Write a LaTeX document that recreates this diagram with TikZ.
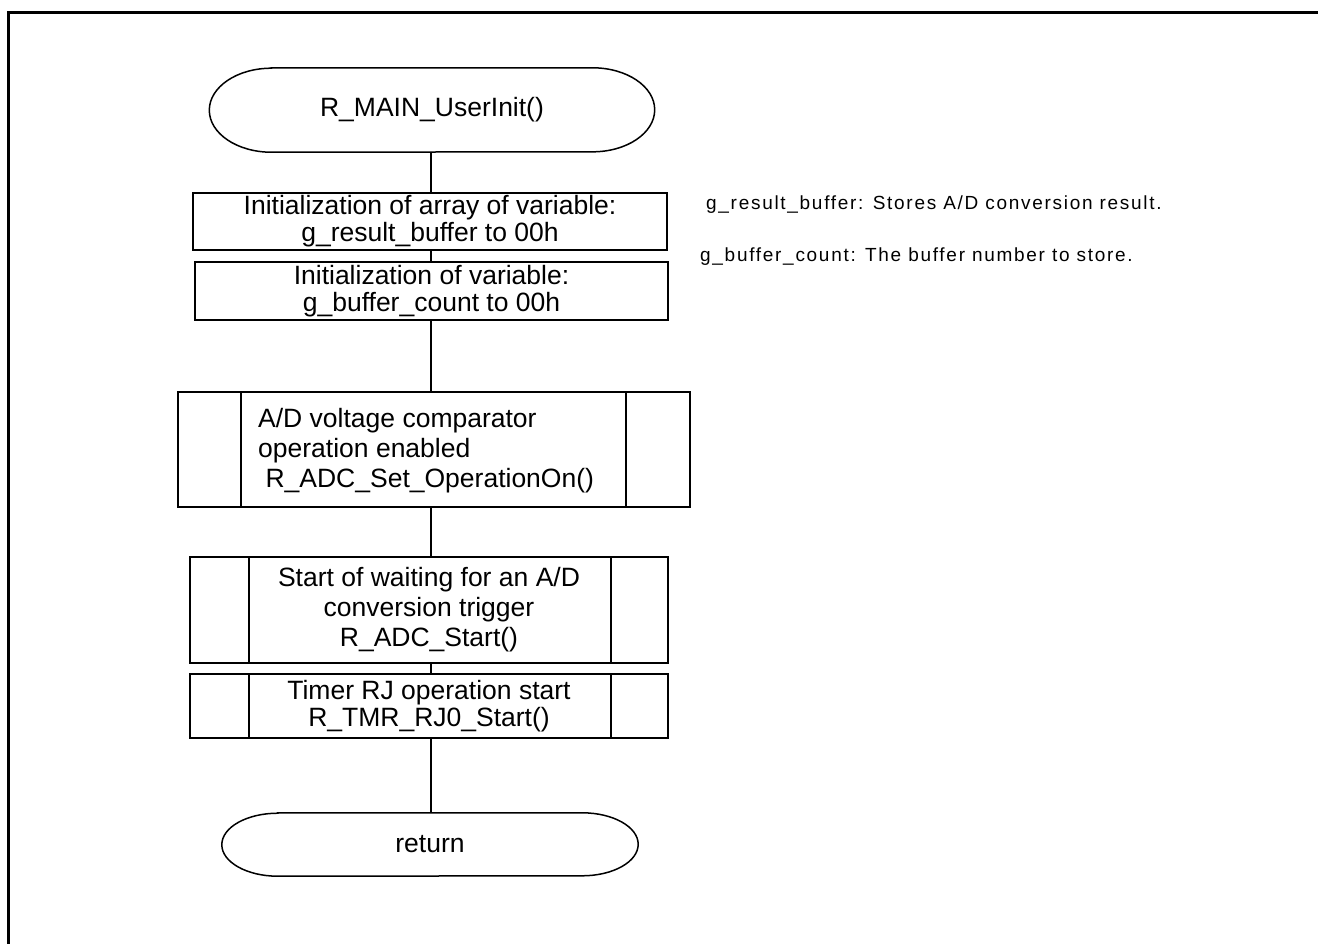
\documentclass[tikz,border=0pt]{standalone}
\usepackage{fontspec}
\setmainfont{Liberation Sans}
\newfontfamily\notefont[LetterSpace=9]{Liberation Sans}
\tikzset{
  every node/.style={font=\fontsize{26.5}{30}\selectfont, inner sep=0pt},
  tight/.style={font=\fontsize{26.5}{27}\selectfont},
  procbox/.style={draw, line width=1.8pt, rectangle, align=center, tight},
  subbox/.style={draw, line width=1.8pt, rectangle},
  termnode/.style={rectangle, align=center},
  outline/.style={line width=1.5pt},
  flow/.style={line width=1.8pt},
  note/.style={font=\notefont\fontsize{19}{22}\selectfont, anchor=west},
  frame/.style={line width=3pt}
}
\begin{document}
\begin{tikzpicture}[x=1pt,y=-1pt]
\useasboundingbox (0,0) rectangle (1318,943);
\clip (0,0) rectangle (1318,943);
\fill[white] (0,0) rectangle (1318,943);
\draw[frame] (8,12) rectangle (1340,970);

\node[termnode, minimum width=445pt, minimum height=84pt] (start) at (432,110) {R\_MAIN\_UserInit()};
\node[procbox, minimum width=474pt, minimum height=57pt] (b1) at (430,221.5) {Initialization of array of variable:\\g\_result\_buffer to 00h};
\node[procbox, minimum width=473pt, minimum height=58pt] (b2) at (431.5,291) {Initialization of variable:\\g\_buffer\_count to 00h};
\node[subbox, minimum width=512pt, minimum height=115pt] (s1) at (434,449.5) {};
\node[anchor=west, align=left] (s1t) at (258,451) {A/D voltage comparator\\operation enabled\\\ R\_ADC\_Set\_OperationOn()};
\node[subbox, minimum width=478pt, minimum height=106pt, align=center] (s2) at (429,610) {Start of waiting for an A/D\\conversion trigger\\R\_ADC\_Start()};
\node[subbox, minimum width=478pt, minimum height=64pt, align=center, tight] (s3) at (429,706) {Timer RJ operation start\\R\_TMR\_RJ0\_Start()};
\node[termnode, minimum width=416pt, minimum height=63pt] (ret) at (430,844.5) {return};

% terminal outlines (elliptical ends)
\draw[outline] ([xshift=62pt]start.north west) -- ([xshift=-62pt]start.north east)
  arc[start angle=90, end angle=-90, x radius=62pt, y radius=42pt]
  -- ([xshift=62pt]start.south west)
  arc[start angle=270, end angle=90, x radius=62pt, y radius=42pt] -- cycle;
\draw[outline] ([xshift=56pt]ret.north west) -- ([xshift=-56pt]ret.north east)
  arc[start angle=90, end angle=-90, x radius=56pt, y radius=31.5pt]
  -- ([xshift=56pt]ret.south west)
  arc[start angle=270, end angle=90, x radius=56pt, y radius=31.5pt] -- cycle;

% subroutine side bars
\draw[flow] ([xshift=64pt]s1.north west) -- ([xshift=64pt]s1.south west);
\draw[flow] ([xshift=-65pt]s1.north east) -- ([xshift=-65pt]s1.south east);
\draw[flow] ([xshift=60pt]s2.north west) -- ([xshift=60pt]s2.south west);
\draw[flow] ([xshift=-58pt]s2.north east) -- ([xshift=-58pt]s2.south east);
\draw[flow] ([xshift=60pt]s3.north west) -- ([xshift=60pt]s3.south west);
\draw[flow] ([xshift=-58pt]s3.north east) -- ([xshift=-58pt]s3.south east);

\coordinate (cx) at (431,0);
\draw[flow] (start.south -| cx) -- (b1.north -| cx);
\draw[flow] (b1.south -| cx) -- (b2.north -| cx);
\draw[flow] (b2.south -| cx) -- (s1.north -| cx);
\draw[flow] (s1.south -| cx) -- (s2.north -| cx);
\draw[flow] (s2.south -| cx) -- (s3.north -| cx);
\draw[flow] (s3.south -| cx) -- (ret.north -| cx);

\node[note] (n1) at (706,205) {g\_result\_buffer: Stores A/D conversion result.};
\node[note] (n2) at (700,257) {g\_buffer\_count: The buffer number to store.};
\end{tikzpicture}
\end{document}
